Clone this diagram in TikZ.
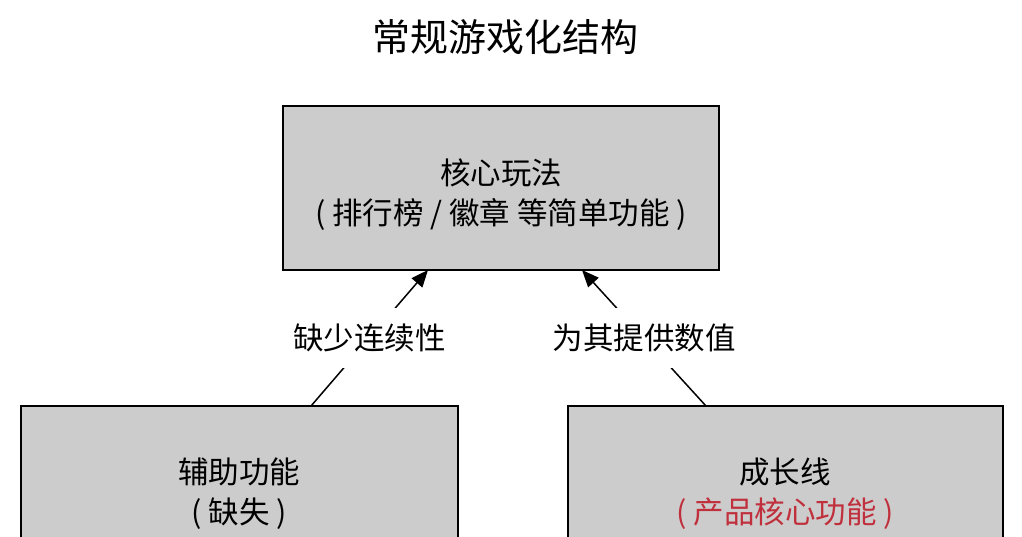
\documentclass[tikz,border=0pt]{standalone}
\usepackage{fontspec}
\setmainfont{Noto Sans CJK SC}
\usetikzlibrary{arrows.meta}
\definecolor{boxgray}{HTML}{CCCCCC}
\definecolor{redtxt}{HTML}{C0303C}
\tikzset{
  box/.style={draw=black, line width=1.5pt, fill=boxgray},
  txt/.style={align=center, font=\fontsize{30.5}{40}\selectfont, inner sep=0pt},
  conn/.style={line width=1.5pt, -{Triangle[length=17pt,width=14pt]}},
  lbl/.style={fill=white, inner xsep=2pt, inner ysep=16pt, font=\fontsize{30.5}{36}\selectfont}
}
\begin{document}
\begin{tikzpicture}[x=1pt,y=-1pt]
\clip (0,0) rectangle (1022,536);
\fill[white] (0,0) rectangle (1022,536);
\node[font=\fontsize{38}{44}\selectfont, inner sep=0pt] (title) at (505,37) {常规游戏化结构};
\draw[box] (283,106) rectangle (719,270);
\node[txt] (core) at (501,195) {核心玩法\\( 排行榜 / 徽章 等简单功能 )};
\draw[box] (21,406) rectangle (458,600);
\node[txt] (aux) at (239,494) {辅助功能\\( 缺失 )};
\draw[box] (568,406) rectangle (1003,600);
\node[txt] (grow) at (785,494) {成长线\\\textcolor{redtxt}{( 产品核心功能 )}};
\coordinate (L1) at (311,406);
\coordinate (T1) at (428,270);
\coordinate (R1) at (706,406);
\coordinate (T2) at (582,270);
\draw[conn] (L1) -- node[lbl] (lab1) {缺少连续性} (T1);
\draw[conn] (R1) -- node[lbl] (lab2) {为其提供数值} (T2);
\end{tikzpicture}
\end{document}
